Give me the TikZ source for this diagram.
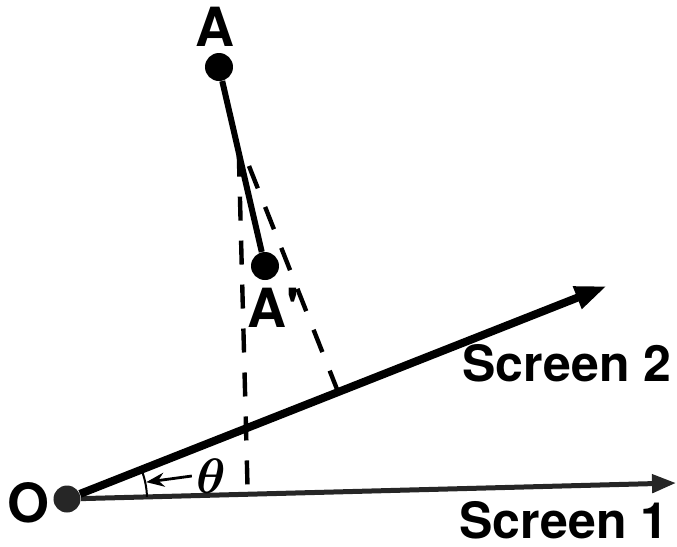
\documentclass[tikz,border=0pt]{standalone}
\usepackage{amsmath}
\usepackage{fontspec}
\setmainfont{TeX Gyre Heros}
\usetikzlibrary{arrows.meta, calc}

\begin{document}
\begin{tikzpicture}[x=0.5pt, y=-0.5pt,
  dot/.style={circle, fill=black, inner sep=0pt, minimum size=14pt},
  lbl/.style={inner sep=0pt, font=\fontsize{25}{28}\selectfont\bfseries},
  screen/.style={draw, line width=2.5pt, -{Triangle[length=12pt, width=9pt]}},
  proj/.style={draw, line width=2.2pt, dash pattern=on 12pt off 10pt},
  rod/.style={draw, line width=3pt}]

  \useasboundingbox (0,0) rectangle (677,547);

  % points
  \node [dot, fill=black!85, minimum size=13.5pt] (O) at (67,499) {};
  \node [dot] (A) at (219,67) {};
  \node [dot] (Ap) at (265,266) {};
  \coordinate (s1tip) at (676,483);
  \coordinate (s2tip) at (607,286);
  \coordinate (P1) at ($(A)!0.43!(Ap)$);
  \coordinate (P2) at (249,166);
  \coordinate (foot1) at ($(O)!(P1)!(s1tip)$);
  \coordinate (foot2) at ($(O)!(P2)!(s2tip)$);

  % projections
  \path [proj] (P1) -- (foot1);
  \path [proj] (P2) -- (foot2);

  % screens
  \path [screen, draw=black!85, fill=black!85] (O) -- (s1tip);
  \path [screen, line width=4pt, -{Triangle[length=16pt, width=11pt]}] (O) -- (s2tip);
  \path [rod] (A) -- (Ap);

  % angle
  \draw [line width=1pt] (O.center) ++(-1.5:80) arc[start angle=-1.5, end angle=-21.5, radius=80];
  \node [lbl, font=\fontsize{24}{26}\selectfont] (theta) at (211,476) {$\boldsymbol{\theta}$};
  \coordinate (arcpt) at ($(O.center)+(-12:81)$);
  \draw [line width=1.4pt, -{Stealth[length=9pt, width=7pt]}] ([xshift=-2pt]theta.west) -- (arcpt);

  % labels
  \node [lbl, font=\fontsize{27}{30}\selectfont\bfseries] (labO) at (29,503) {O};
  \node [lbl, font=\fontsize{27}{30}\selectfont\bfseries] (labA) at (215,27) {A};
  \node [lbl, font=\fontsize{27}{30}\selectfont\bfseries] (labAp) at (273,308) {A\textquotesingle};
  \node [lbl] (labS2) at (567,363) {Screen 2};
  \node [lbl] (labS1) at (564,520) {Screen 1};
\end{tikzpicture}
\end{document}
